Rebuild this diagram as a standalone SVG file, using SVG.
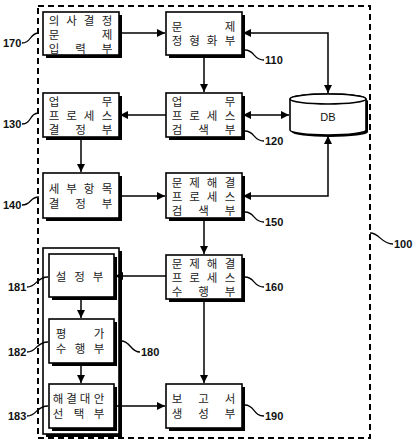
<svg xmlns="http://www.w3.org/2000/svg" width="415" height="444" viewBox="0 0 415 444">
<defs>
<style>
.sh{fill:#000}
.bx{fill:#fff;stroke:#000;stroke-width:1.6}
.t{font-family:"Noto Sans CJK KR","Noto Sans",sans-serif;font-size:11.5px;fill:#222;text-anchor:middle}
.lb{font-family:"Liberation Sans",Arial,sans-serif;font-size:11px;font-weight:bold;fill:#111}
.ld{fill:none;stroke:#000;stroke-width:1.3}
.cn{fill:none;stroke:#000;stroke-width:1.5}
.dash{fill:none;stroke:#000;stroke-width:2;stroke-dasharray:6 4}
</style>
<marker id="ah" viewBox="0 0 10 10" refX="10" refY="5" markerWidth="8" markerHeight="8" markerUnits="userSpaceOnUse" orient="auto-start-reverse">
<path d="M0,0 L10,5 L0,10 z" fill="#000"/>
</marker>
</defs>
<rect width="415" height="444" fill="#fff"/>

<g id="n100">
<rect class="dash" x="38" y="6" width="332" height="432"/>
<path class="ld" d="M370,233 C380,233 381,244 393,244"/>
<text class="lb" x="394" y="248">100</text>
</g>

<g id="n180">
<rect class="sh" x="46" y="251" width="76" height="186"/>
<rect class="bx" x="43" y="248" width="76" height="186"/>
<path class="ld" d="M121,341 C131,341 130,352 140,352"/>
<text class="lb" x="141" y="356">180</text>
</g>

<g id="n170">
<rect class="sh" x="46" y="15" width="76" height="43"/>
<rect class="bx" x="43" y="12" width="76" height="43"/>
<text class="t" x="54 71.5 89 107" y="24.5">의사결정</text>
<text class="t" x="54 107" y="38.5">문제</text>
<text class="t" x="54 80.5 107" y="52.5">입력부</text>
<path class="ld" d="M22,43 C32,43 29,33 39,33"/>
<text class="lb" x="3" y="47">170</text>
</g>

<g id="n110">
<rect class="sh" x="169" y="15" width="76" height="43"/>
<rect class="bx" x="166" y="12" width="76" height="43"/>
<text class="t" x="177 230" y="31">문제</text>
<text class="t" x="177 194.5 212 230" y="45">정형화부</text>
<path class="ld" d="M245,50 C255,50 253,60 264,60"/>
<text class="lb" x="265" y="64">110</text>
</g>

<g id="n130">
<rect class="sh" x="46" y="96" width="76" height="44"/>
<rect class="bx" x="43" y="93" width="76" height="44"/>
<text class="t" x="54 107" y="105.5">업무</text>
<text class="t" x="54 71.5 89 107" y="119.5">프로세스</text>
<text class="t" x="54 80.5 107" y="133.5">결정부</text>
<path class="ld" d="M22,124 C32,124 29,113 39,113"/>
<text class="lb" x="3" y="128">130</text>
</g>

<g id="n120">
<rect class="sh" x="169" y="96" width="76" height="44"/>
<rect class="bx" x="166" y="93" width="76" height="44"/>
<text class="t" x="177 230" y="105.5">업무</text>
<text class="t" x="177 194.5 212 230" y="119.5">프로세스</text>
<text class="t" x="177 203.5 230" y="133.5">검색부</text>
<path class="ld" d="M245,131 C255,131 253,141 264,141"/>
<text class="lb" x="265" y="145">120</text>
</g>

<g id="db">
<path class="sh" d="M292,101 L292,132 A38,5 0 0 0 368,132 L368,101 A38,5 0 0 0 292,101 z"/>
<path d="M290,99 L290,130 A38,5 0 0 0 366,130 L366,99 A38,5 0 0 0 290,99 z" fill="#fff" stroke="#000" stroke-width="1.6"/>
<ellipse cx="328" cy="99" rx="38" ry="5" fill="#fff" stroke="#000" stroke-width="1.6"/>
<text x="328" y="121" font-family="'Liberation Sans',Arial,sans-serif" font-size="11" text-anchor="middle" fill="#111">DB</text>
</g>

<g id="n140">
<rect class="sh" x="46" y="176" width="76" height="45"/>
<rect class="bx" x="43" y="173" width="76" height="45"/>
<text class="t" x="54 71.5 89 107" y="193">세부항목</text>
<text class="t" x="54 80.5 107" y="207.5">결정부</text>
<path class="ld" d="M22,205 C32,205 29,197 39,197"/>
<text class="lb" x="3" y="209">140</text>
</g>

<g id="n150">
<rect class="sh" x="169" y="176" width="76" height="45"/>
<rect class="bx" x="166" y="173" width="76" height="45"/>
<text class="t" x="177 194.5 212 230" y="186.5">문제해결</text>
<text class="t" x="177 194.5 212 230" y="200.5">프로세스</text>
<text class="t" x="177 203.5 230" y="214.5">검색부</text>
<path class="ld" d="M245,212 C255,212 253,222 264,222"/>
<text class="lb" x="265" y="226">150</text>
</g>

<g id="n160">
<rect class="sh" x="169" y="258" width="76" height="44"/>
<rect class="bx" x="166" y="255" width="76" height="44"/>
<text class="t" x="177 194.5 212 230" y="267.5">문제해결</text>
<text class="t" x="177 194.5 212 230" y="281.5">프로세스</text>
<text class="t" x="177 203.5 230" y="295.5">수행부</text>
<path class="ld" d="M245,277 C255,277 253,287 264,287"/>
<text class="lb" x="265" y="291">160</text>
</g>

<g id="n190">
<rect class="sh" x="169" y="387" width="76" height="44"/>
<rect class="bx" x="166" y="384" width="76" height="44"/>
<text class="t" x="177 203.5 230" y="403">보고서</text>
<text class="t" x="177 203.5 230" y="418">생성부</text>
<path class="ld" d="M245,405 C255,405 253,416 264,416"/>
<text class="lb" x="265" y="420">190</text>
</g>

<g id="n181">
<rect class="sh" x="52" y="257" width="65" height="43"/>
<rect class="bx" x="49" y="254" width="65" height="43"/>
<text class="t" x="61 79.5 98" y="280.5">설정부</text>
<path class="ld" d="M27,287 C37,287 36,277 48,277"/>
<text class="lb" x="8" y="291">181</text>
</g>

<g id="n182">
<rect class="sh" x="52" y="322" width="65" height="44"/>
<rect class="bx" x="49" y="319" width="65" height="44"/>
<text class="t" x="61 99" y="338">평가</text>
<text class="t" x="61 80 99" y="353">수행부</text>
<path class="ld" d="M27,352 C37,352 36,342 48,342"/>
<text class="lb" x="8" y="356">182</text>
</g>

<g id="n183">
<rect class="sh" x="52" y="387" width="65" height="44"/>
<rect class="bx" x="49" y="384" width="65" height="44"/>
<text class="t" x="58 71.5 85 99" y="403">해결대안</text>
<text class="t" x="58 79 99" y="418">선택부</text>
<path class="ld" d="M27,416 C37,416 36,406 48,406"/>
<text class="lb" x="8" y="420">183</text>
</g>

<g id="connectors">
<path class="cn" d="M119,33 L165,33" marker-end="url(#ah)"/>
<path class="cn" d="M204,55 L204,92" marker-end="url(#ah)"/>
<path class="cn" d="M243,33 L328,33 L328,93" marker-start="url(#ah)" marker-end="url(#ah)"/>
<path class="cn" d="M166,115 L120,115" marker-end="url(#ah)"/>
<path class="cn" d="M243,115 L289,115" marker-start="url(#ah)" marker-end="url(#ah)"/>
<path class="cn" d="M81,137 L81,172" marker-end="url(#ah)"/>
<path class="cn" d="M119,196 L165,196" marker-end="url(#ah)"/>
<path class="cn" d="M243,196 L328,196 L328,136" marker-start="url(#ah)" marker-end="url(#ah)"/>
<path class="cn" d="M204,218 L204,254" marker-end="url(#ah)"/>
<path class="cn" d="M166,276 L115,276" marker-end="url(#ah)"/>
<path class="cn" d="M204,299 L204,383" marker-end="url(#ah)"/>
<path class="cn" d="M81,297 L81,318" marker-end="url(#ah)"/>
<path class="cn" d="M81,363 L81,383" marker-end="url(#ah)"/>
<path class="cn" d="M114,406 L165,406" marker-end="url(#ah)"/>
</g>
</svg>
